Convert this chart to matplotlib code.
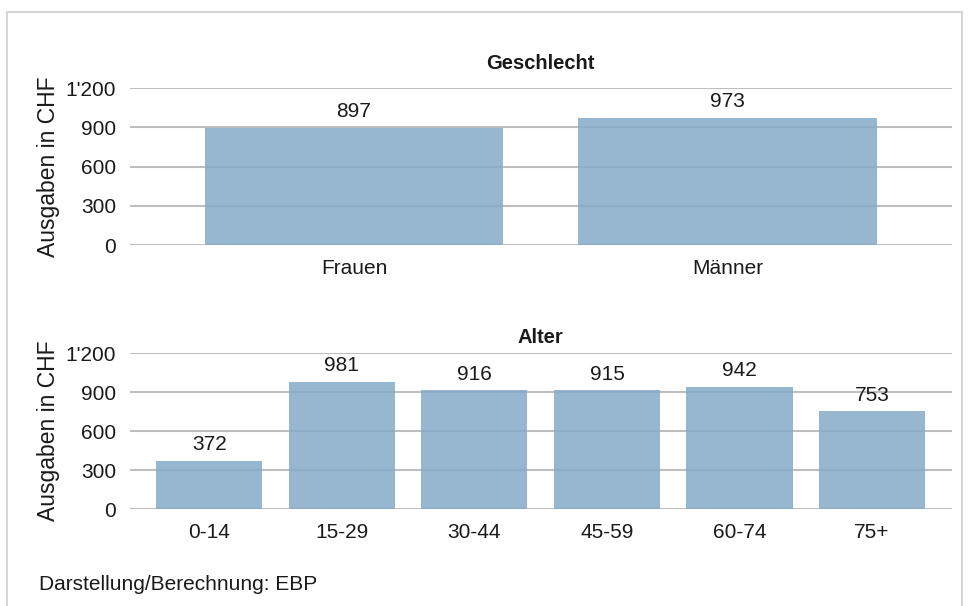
import matplotlib.pyplot as plt
from matplotlib.patches import Rectangle
from matplotlib.ticker import FuncFormatter

plt.rcParams['font.family'] = ['Liberation Sans', 'DejaVu Sans']

# data
sex_labels = ['Frauen', 'Männer']
sex_values = [897, 973]
age_labels = ['0-14', '15-29', '30-44', '45-59', '60-74', '75+']
age_values = [372, 981, 916, 915, 942, 753]
y_ticks = [0, 300, 600, 900, 1200]

bar_color = '#85a9c8'
grid_color = '#bebebe'
text_color = '#1a1a1a'


def fmt(v, pos):
    # swiss thousand separator
    return "{:,}".format(int(v)).replace(",", "'")


def draw_panel(ax, labels, values, title, title_pad):
    x = list(range(len(labels)))
    ax.bar(x, values, width=0.8, color=bar_color, alpha=0.85, zorder=2)
    for xi, v in zip(x, values):
        ax.annotate(str(v), (xi, v), xytext=(0, 7.5), textcoords='offset points',
                    ha='center', va='baseline', fontsize=15, color=text_color)
    ax.set_xlim(-0.6, len(labels) - 0.4)
    ax.set_ylim(0, 1200)
    ax.set_yticks(y_ticks)
    ax.yaxis.set_major_formatter(FuncFormatter(fmt))
    ax.set_xticks(x)
    ax.set_xticklabels(labels)
    ax.grid(axis='y', color=grid_color, linewidth=1.5, zorder=0)
    ax.set_axisbelow(True)
    for s in ax.spines.values():
        s.set_visible(False)
    ax.tick_params(length=0, labelsize=15, colors=text_color, pad=10)
    ax.tick_params(axis='x', pad=10)
    ax.set_ylabel('Ausgaben in CHF', fontsize=16.5, color=text_color, labelpad=4)
    ax.set_title(title, fontsize=14.5, fontweight='bold', color=text_color, pad=title_pad)


fig = plt.figure(figsize=(9.69, 6.06), dpi=100)

# light frame around the chart
fig.patches.append(Rectangle((7 / 969, -0.01), 955 / 969, 1 - 12 / 606 + 0.01,
                             transform=fig.transFigure, fill=False,
                             edgecolor='#d6d6d6', linewidth=1.5))

ax1 = fig.add_axes([0.134, 0.5957, 0.848, 0.259])
ax2 = fig.add_axes([0.134, 0.160, 0.848, 0.2574])

draw_panel(ax1, sex_labels, sex_values, 'Geschlecht', 14)
draw_panel(ax2, age_labels, age_values, 'Alter', 7.5)

fig.text(39 / 969, 1 - 585 / 606, 'Darstellung/Berechnung: EBP',
         fontsize=15, color=text_color, va='center')

fig.savefig('out.png', dpi=100)
